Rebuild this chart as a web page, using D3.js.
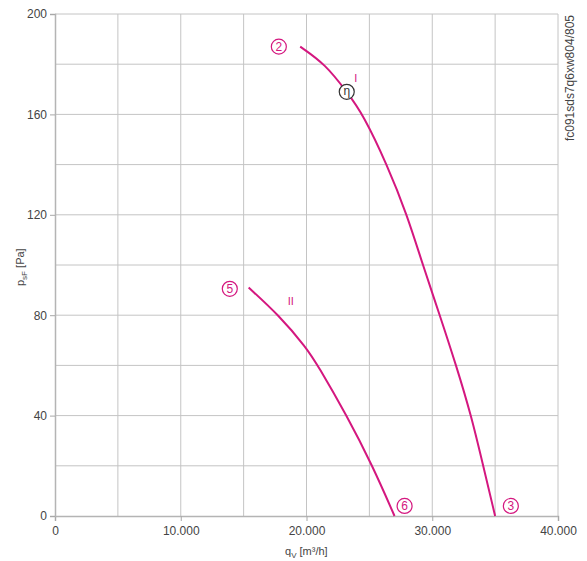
<!DOCTYPE html>
<html>
<head>
<meta charset="utf-8">
<script src="https://cdn.jsdelivr.net/npm/d3@7"></script>
<style>
  body { margin: 0; background: #fff; }
  svg { font-family: "Liberation Sans", Arial, sans-serif; }
</style>
</head>
<body>
<div id="vis"></div>
<script>
// curve I  (q in m3/h, p in Pa)
const curveI = [
  [19500, 187], [21500, 180], [23200, 169], [24500, 160], [26400, 140],
  [28000, 120], [29250, 100], [30600, 80], [31900, 60], [33100, 40],
  [34050, 20], [35000, 0]
];
// curve II
const curveII = [
  [15400, 91], [17800, 80], [20000, 67], [20900, 60], [23200, 40],
  [25250, 20], [27000, 0]
];
const xTicks = [0, 10000, 20000, 30000, 40000];
const yTicks = [0, 40, 80, 120, 160, 200];
const pointLabels = [
  { text: '2', q: 17800, p: 187 },
  { text: '5', q: 13900, p: 90.5 },
  { text: '6', q: 27800, p: 4 },
  { text: '3', q: 36250, p: 4 }
];

const width = 587;
const height = 561;
const margin = { top: 14, right: 29, bottom: 45, left: 55 };
const magenta = '#d4177f';

const x = d3.scaleLinear()
    .domain([0, 40000])
    .range([margin.left, width - margin.right]);

const y = d3.scaleLinear()
    .domain([0, 200])
    .range([height - margin.bottom, margin.top]);

const svg = d3.select('#vis')
    .append('svg')
    .attr('width', width)
    .attr('height', height);

// grid
svg.append('g')
    .selectAll('line')
    .data(d3.range(5000, 40001, 5000))
    .join('line')
    .attr('x1', d => x(d)).attr('x2', d => x(d))
    .attr('y1', y(0)).attr('y2', y(200))
    .attr('stroke', '#c4c4c4');

svg.append('g')
    .selectAll('line')
    .data(d3.range(20, 201, 20))
    .join('line')
    .attr('x1', x(0)).attr('x2', x(40000))
    .attr('y1', d => y(d)).attr('y2', d => y(d))
    .attr('stroke', '#c4c4c4');

const fmt = d => d === 0 ? '0' : d3.format(',')(d).replace(',', '.');

svg.append('g')
    .attr('transform', `translate(0, ${y(0)})`)
    .call(d3.axisBottom(x).tickValues(xTicks).tickFormat(fmt).tickSize(5).tickPadding(5));

svg.append('g')
    .attr('transform', `translate(${x(0)}, 0)`)
    .call(d3.axisLeft(y).tickValues(yTicks).tickSize(5).tickPadding(3));

svg.selectAll('.domain').attr('stroke', '#b4b4b4').attr('stroke-width', 1.5);
svg.selectAll('.tick line').attr('stroke', '#a8a8a8');
svg.selectAll('.tick text')
    .attr('font-size', '12px')
    .attr('fill', '#444')
    .attr('font-family', '"Liberation Sans", Arial, sans-serif');

// axis titles
const xt = svg.append('text')
    .attr('x', 285).attr('y', 555)
    .attr('font-size', '11px').attr('fill', '#444');
xt.append('tspan').text('q');
xt.append('tspan').attr('dy', 3).attr('font-size', '8px').text('V');
xt.append('tspan').attr('dy', -3).text(' [m³/h]');

const yt = svg.append('text')
    .attr('transform', 'translate(24, 286) rotate(-90)')
    .attr('font-size', '11px').attr('fill', '#444');
yt.append('tspan').text('p');
yt.append('tspan').attr('dy', 3).attr('font-size', '8px').text('sF');
yt.append('tspan').attr('dy', -3).text(' [Pa]');

// code on the right, reads bottom to top
svg.append('text')
    .attr('transform', 'translate(574, 15) rotate(-90)')
    .attr('text-anchor', 'end')
    .attr('font-size', '12px').attr('fill', '#444')
    .text('fc091sds7q6xw804/805');

// curves
const line = d3.line()
    .x(d => x(d[0]))
    .y(d => y(d[1]))
    .curve(d3.curveBasis);

svg.selectAll('path.curve')
    .data([curveI, curveII])
    .join('path')
    .attr('class', 'curve')
    .attr('d', d => line(d))
    .attr('fill', 'none')
    .attr('stroke', magenta)
    .attr('stroke-width', 2);

// circled point labels
const pl = svg.append('g')
    .selectAll('g')
    .data(pointLabels)
    .join('g')
    .attr('transform', d => `translate(${x(d.q)}, ${y(d.p)})`);

pl.append('circle')
    .attr('r', 7.5)
    .attr('fill', '#fff')
    .attr('stroke', magenta)
    .attr('stroke-width', 1.2);

pl.append('text')
    .attr('text-anchor', 'middle')
    .attr('y', 4.5)
    .attr('font-size', '12px')
    .attr('fill', magenta)
    .text(d => d.text);

// efficiency marker
const eta = svg.append('g')
    .attr('transform', `translate(${x(23200)}, ${y(169)})`);
eta.append('circle')
    .attr('r', 7.5)
    .attr('fill', '#fff')
    .attr('stroke', '#333')
    .attr('stroke-width', 1.2);
eta.append('text')
    .attr('text-anchor', 'middle')
    .attr('y', 3.5)
    .attr('font-size', '12px')
    .attr('fill', '#333')
    .text('η');

// curve names
svg.append('text')
    .attr('x', x(23800)).attr('y', y(173))
    .attr('font-size', '11px').attr('fill', magenta)
    .text('I');

svg.append('text')
    .attr('x', x(18500)).attr('y', y(84))
    .attr('font-size', '11px').attr('fill', magenta)
    .text('II');
</script>
</body>
</html>
